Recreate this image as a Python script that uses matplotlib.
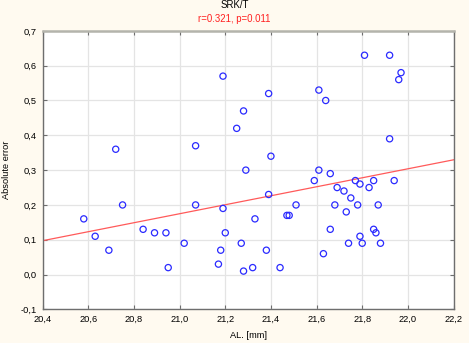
import numpy as np
import matplotlib
matplotlib.use("Agg")
import matplotlib.pyplot as plt
from matplotlib.ticker import FuncFormatter

plt.rcParams['font.family'] = ['Liberation Sans', 'DejaVu Sans']

# Axial length [mm] and absolute prediction error (SRK/T)
axial_length = [
    20.58, 20.63, 20.69, 20.75, 20.84, 20.89, 20.94, 20.95, 21.02, 21.07,
    21.19, 21.20, 21.18, 21.17, 21.27, 21.19, 21.25, 20.72, 21.07, 21.81,
    21.92, 21.97, 21.96, 21.39, 21.61, 21.64, 21.28, 21.92, 21.40, 21.29,
    21.61, 21.66, 21.59, 21.77, 21.85, 21.94, 21.79, 21.69, 21.72, 21.83,
    21.75, 21.39, 21.51, 21.68, 21.78, 21.87, 21.73, 21.47, 21.48, 21.33,
    21.66, 21.85, 21.86, 21.79, 21.74, 21.80, 21.88, 21.38, 21.63, 21.28,
    21.32, 21.44,
]
abs_error = [
    0.16, 0.11, 0.07, 0.20, 0.13, 0.12, 0.12, 0.02, 0.09, 0.20,
    0.19, 0.12, 0.07, 0.03, 0.09, 0.57, 0.42, 0.36, 0.37, 0.63,
    0.63, 0.58, 0.56, 0.52, 0.53, 0.50, 0.47, 0.39, 0.34, 0.30,
    0.30, 0.29, 0.27, 0.27, 0.27, 0.27, 0.26, 0.25, 0.24, 0.25,
    0.22, 0.23, 0.20, 0.20, 0.20, 0.20, 0.18, 0.17, 0.17, 0.16,
    0.13, 0.13, 0.12, 0.11, 0.09, 0.09, 0.09, 0.07, 0.06, 0.01,
    0.02, 0.02,
]

title = "SRK/T"
subtitle = "r=0.321, p=0.011"
x_ticks = [20.4, 20.6, 20.8, 21.0, 21.2, 21.4, 21.6, 21.8, 22.0, 22.2]
y_ticks = [-0.1, 0.0, 0.1, 0.2, 0.3, 0.4, 0.5, 0.6, 0.7]

bg = '#fffaf0'
fig = plt.figure(figsize=(4.69, 3.43), dpi=100, facecolor=bg)
ax = fig.add_axes([0.091, 0.098, 0.876, 0.812])
ax.set_facecolor('white')

x = np.array(axial_length)
y = np.array(abs_error)

ax.set_xlim(20.4, 22.2)
ax.set_ylim(-0.1, 0.7)
ax.set_xticks(x_ticks)
ax.set_yticks(y_ticks)
comma = FuncFormatter(lambda v, p: f"{v:.1f}".replace('.', ',').replace('-0,0', '0,0'))
ax.xaxis.set_major_formatter(comma)
ax.yaxis.set_major_formatter(comma)

ax.grid(True, color='#e4e4e4', linewidth=0.9, zorder=0)
ax.set_axisbelow(True)

# Least-squares regression line across the full x range
slope, intercept = np.polyfit(x, y, 1)
xl = np.array(ax.get_xlim())
ax.plot(xl, intercept + slope * xl, color='#ff5a5a', linewidth=0.9, zorder=2)

ax.scatter(x, y, s=20, facecolors='none', edgecolors='#2a2aff', linewidths=0.9, zorder=3)

for name in ('left', 'bottom', 'right'):
    ax.spines[name].set_color('#6e6e6e')
    ax.spines[name].set_linewidth(1.0)
ax.spines['top'].set_color('#b4b4ac')
ax.spines['top'].set_linewidth(1.8)

ax.tick_params(axis='both', which='major', direction='in', length=3, width=0.8,
               color='#6e6e6e', labelsize=6.7, labelcolor='black',
               top=True, right=True, pad=4)

ax.set_xlabel("AL. [mm]", fontsize=6.7, labelpad=5)
ax.set_ylabel("Absolute error", fontsize=6.7, labelpad=7)

fig.text(0.5, 1 - 5.5 / 343, title, ha='center', va='center', fontsize=6.9, color='black')
fig.text(0.5, 1 - 19 / 343, subtitle, ha='center', va='center', fontsize=6.9, color='#ff2020')

fig.savefig('out.png', dpi=100, facecolor=bg)
